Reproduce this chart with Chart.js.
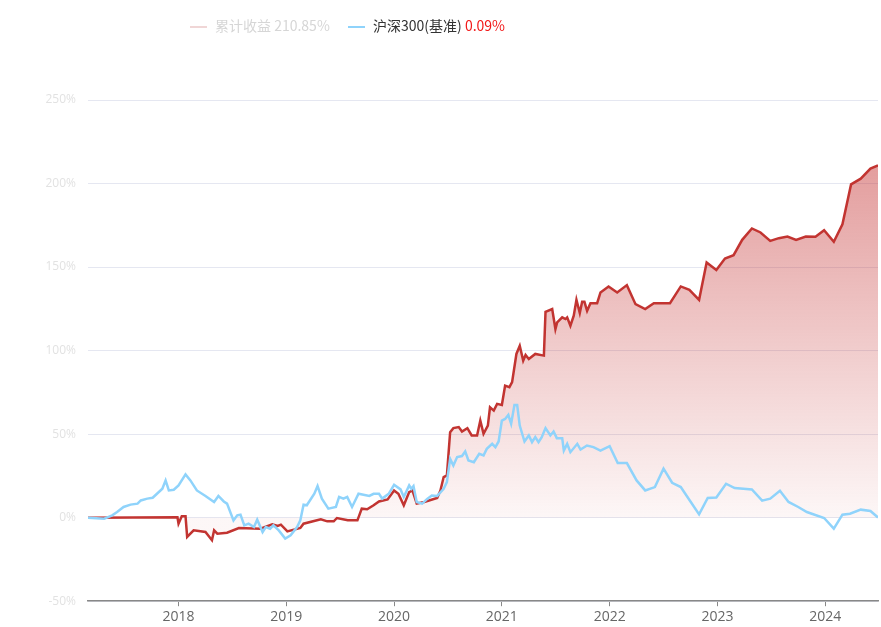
<!DOCTYPE html>
<html>
<head>
<meta charset="utf-8">
<script src="https://cdn.jsdelivr.net/npm/chart.js@4.4.1/dist/chart.umd.min.js"></script>
<style>
    html, body { margin: 0; padding: 0; background: #fff; }
    #wrap { position: relative; width: 881px; height: 627px; }
    #legend {
        position: absolute; top: 15px; left: 0; width: 881px;
        font-family: "Noto Sans CJK SC", "Noto Sans", sans-serif; font-size: 14px;
        line-height: 20px; white-space: nowrap;
    }
    .item { position: absolute; top: 0; }
    .mark { display: inline-block; width: 17px; height: 2px; vertical-align: middle; margin-right: 8px; }
</style>
</head>
<body>
<div id="wrap">
    <canvas id="navChart" width="881" height="627"></canvas>
    <div id="legend">
        <span class="item" style="left:190px;color:#d6d6d6">
            <span class="mark" style="background:#f0d6d6"></span>累计收益 <span>210.85%</span>
        </span>
        <span class="item" style="left:348px;color:#333">
            <span class="mark" style="background:#8fd3fb"></span>沪深300(基准) <span style="color:#f21818">0.09%</span>
        </span>
    </div>
</div>
<script>
// Fund cumulative return (%), x = decimal year
const fundX = [2017.16, 2017.99, 2018.00, 2018.03, 2018.065, 2018.08, 2018.14, 2018.25, 2018.31, 2018.33,
    2018.36, 2018.45, 2018.56, 2018.76, 2018.87, 2018.92, 2018.95, 2019.01, 2019.13, 2019.16,
    2019.32, 2019.38, 2019.44, 2019.47, 2019.57, 2019.66, 2019.70, 2019.75, 2019.81, 2019.86,
    2019.94, 2020.00, 2020.04, 2020.09, 2020.14, 2020.17, 2020.21, 2020.28, 2020.40, 2020.43,
    2020.46, 2020.49, 2020.52, 2020.55, 2020.60, 2020.63, 2020.68, 2020.72, 2020.77, 2020.80,
    2020.83, 2020.87, 2020.89, 2020.925, 2020.956, 2021.00, 2021.03, 2021.07, 2021.095, 2021.135,
    2021.166, 2021.198, 2021.22, 2021.25, 2021.31, 2021.39, 2021.405, 2021.467, 2021.497, 2021.513,
    2021.56, 2021.59, 2021.606, 2021.636, 2021.667, 2021.692, 2021.723, 2021.745, 2021.766, 2021.791,
    2021.822, 2021.884, 2021.915, 2021.99, 2022.07, 2022.16, 2022.24, 2022.33, 2022.41, 2022.56,
    2022.66, 2022.74, 2022.83, 2022.90, 2022.99, 2023.07, 2023.15, 2023.23, 2023.32, 2023.40,
    2023.49, 2023.57, 2023.65, 2023.73, 2023.82, 2023.91, 2023.99, 2024.08, 2024.16, 2024.24,
    2024.33, 2024.42, 2024.49];
const fundY = [0, 0.2, -3.6, 0.8, 0.8, -11.5, -7.6, -8.6, -13.5, -7.6,
    -9.6, -9.0, -6.2, -6.6, -4.0, -5.0, -4.2, -8.2, -6.2, -3.6,
    -1.0, -2.2, -2.2, -0.2, -1.6, -1.6, 5.4, 5.0, 7.4, 9.7,
    10.9, 16.3, 14.3, 7.4, 15.3, 16.3, 8.4, 9.4, 11.8, 16.3,
    24.3, 25.3, 51.2, 53.6, 54.2, 51.6, 53.6, 49.2, 49.2, 58.1,
    50.2, 55.1, 66.1, 64.1, 68.1, 67.5, 79.0, 78.1, 81.1, 98.0,
    102.9, 94.0, 97.4, 95.0, 98.0, 97.0, 123.2, 124.9, 112.9, 116.9,
    119.9, 118.9, 119.9, 114.9, 120.9, 130.4, 122.5, 129.2, 129.2, 123.8,
    128.4, 128.4, 134.8, 138.4, 134.8, 139.2, 127.8, 124.9, 128.4, 128.4,
    138.4, 136.4, 130.4, 152.8, 148.3, 155.1, 157.1, 166.3, 173.1, 170.7,
    165.7, 167.3, 168.3, 166.3, 168.3, 168.1, 172.1, 165.1, 175.6, 199.5,
    202.9, 208.9, 210.9];

// 沪深300 benchmark cumulative return (%)
const benchX = [2017.16, 2017.31, 2017.385, 2017.43, 2017.49, 2017.555, 2017.62, 2017.65, 2017.71, 2017.76,
    2017.80, 2017.85, 2017.88, 2017.91, 2017.956, 2018.00, 2018.065, 2018.11, 2018.17, 2018.25,
    2018.33, 2018.37, 2018.42, 2018.45, 2018.51, 2018.545, 2018.575, 2018.61, 2018.65, 2018.70,
    2018.73, 2018.78, 2018.81, 2018.85, 2018.88, 2018.93, 2018.99, 2019.04, 2019.10, 2019.13,
    2019.16, 2019.19, 2019.26, 2019.29, 2019.33, 2019.39, 2019.46, 2019.49, 2019.53, 2019.565,
    2019.61, 2019.67, 2019.77, 2019.81, 2019.86, 2019.89, 2019.95, 2020.00, 2020.06, 2020.09,
    2020.14, 2020.16, 2020.18, 2020.21, 2020.26, 2020.31, 2020.35, 2020.40, 2020.46, 2020.49,
    2020.52, 2020.55, 2020.585, 2020.63, 2020.66, 2020.69, 2020.74, 2020.79, 2020.83, 2020.86,
    2020.91, 2020.94, 2020.97, 2021.00, 2021.03, 2021.06, 2021.086, 2021.117, 2021.142, 2021.166,
    2021.21, 2021.25, 2021.28, 2021.31, 2021.34, 2021.37, 2021.405, 2021.45, 2021.48, 2021.51,
    2021.56, 2021.575, 2021.606, 2021.636, 2021.70, 2021.73, 2021.79, 2021.85, 2021.915, 2022.00,
    2022.075, 2022.16, 2022.25, 2022.33, 2022.42, 2022.50, 2022.58, 2022.66, 2022.75, 2022.83,
    2022.91, 2022.99, 2023.08, 2023.16, 2023.32, 2023.415, 2023.49, 2023.58, 2023.66, 2023.75,
    2023.83, 2023.99, 2024.08, 2024.16, 2024.23, 2024.33, 2024.42, 2024.49];
const benchY = [0, -0.6, 1.4, 3.4, 6.4, 7.8, 8.4, 10.3, 11.4, 11.9,
    14.3, 17.3, 22.3, 16.3, 16.7, 19.3, 25.9, 22.3, 16.3, 13.0,
    9.4, 13.0, 9.7, 8.4, -1.6, 1.4, 1.8, -4.6, -3.6, -5.6,
    -1.2, -8.6, -5.6, -6.6, -4.6, -7.6, -12.5, -10.6, -5.6, -1.6,
    7.8, 7.4, 14.3, 18.9, 11.4, 5.4, 6.4, 12.4, 11.4, 12.4,
    6.4, 14.3, 13.0, 14.3, 14.3, 11.4, 14.3, 19.7, 16.9, 12.4,
    19.3, 17.3, 18.9, 9.4, 8.4, 11.4, 13.3, 13.0, 17.3, 21.3,
    35.2, 31.2, 36.3, 36.9, 39.6, 34.2, 33.2, 38.2, 37.2, 41.2,
    44.2, 42.2, 45.6, 58.1, 59.1, 61.5, 56.2, 67.5, 67.5, 55.1,
    45.6, 49.2, 45.2, 48.2, 45.2, 48.2, 53.6, 49.2, 51.6, 47.6,
    47.6, 40.2, 44.2, 39.2, 44.2, 40.8, 43.2, 42.2, 40.2, 42.8,
    32.7, 32.7, 22.3, 16.3, 18.3, 29.3, 20.9, 18.3, 9.7, 2.0,
    11.8, 12.1, 20.3, 17.7, 16.9, 10.2, 11.4, 16.1, 9.4, 6.4,
    3.4, -0.2, -6.6, 1.8, 2.4, 4.8, 4.0, 0.09];

const yearTicks = [2018, 2019, 2020, 2021, 2022, 2023, 2024];

const toPoints = (xs, ys) => xs.map((x, i) => ({ x: x, y: ys[i] }));

// Red gradient from the top of the chart down to the zero line
function fundFill(context) {
    const chart = context.chart;
    const area = chart.chartArea;
    if (!area) return 'rgba(196,48,48,0.2)';
    const zeroY = chart.scales.y.getPixelForValue(0);
    const g = chart.ctx.createLinearGradient(0, area.top, 0, zeroY);
    g.addColorStop(0, 'rgba(196,48,48,0.55)');
    g.addColorStop(1, 'rgba(196,48,48,0.04)');
    return g;
}

const ctx = document.getElementById('navChart').getContext('2d');
window.navChart = new Chart(ctx, {
    type: 'line',
    data: {
        datasets: [
            {
                label: '沪深300(基准)',
                data: toPoints(benchX, benchY),
                borderColor: '#8fd3fb',
                borderWidth: 2.5,
                pointRadius: 0,
                fill: false,
                tension: 0
            },
            {
                label: '累计收益',
                data: toPoints(fundX, fundY),
                borderColor: '#c23431',
                borderWidth: 2.5,
                pointRadius: 0,
                fill: 'origin',
                backgroundColor: fundFill,
                tension: 0
            }
        ]
    },
    options: {
        responsive: false,
        animation: false,
        layout: { padding: { top: 100, right: 3, left: 0, bottom: 0 } },
        plugins: {
            legend: { display: false },
            tooltip: { enabled: false }
        },
        scales: {
            x: {
                type: 'linear',
                min: 2017.16,
                max: 2024.49,
                afterBuildTicks: (scale) => {
                    scale.ticks = yearTicks.map(v => ({ value: v }));
                },
                grid: { drawOnChartArea: false, color: '#888', tickLength: 5 },
                border: { color: '#888', width: 1.5 },
                ticks: {
                    color: '#666',
                    font: { family: 'Open Sans', size: 14 },
                    padding: 2,
                    maxRotation: 0,
                    callback: v => String(v)
                }
            },
            y: {
                min: -50,
                max: 250,
                afterFit: (scale) => { scale.width = 88; },
                grid: { color: '#e5e7f1', drawTicks: false },
                border: { display: false },
                ticks: {
                    stepSize: 50,
                    color: '#e2e2e2',
                    font: { family: 'Open Sans', size: 12 },
                    padding: 12,
                    callback: v => v + '%'
                }
            }
        }
    }
});
</script>
</body>
</html>
